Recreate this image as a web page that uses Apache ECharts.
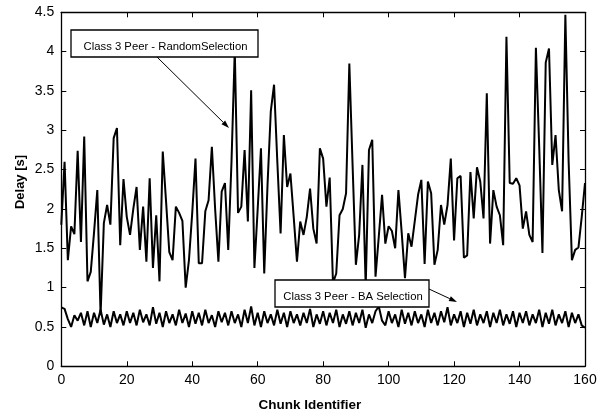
<!DOCTYPE html>
<html><head><meta charset="utf-8">
<script src="https://cdn.jsdelivr.net/npm/echarts@6/dist/echarts.min.js"></script>
<style>html,body{margin:0;padding:0;background:#fff}#c{width:615px;height:418px}</style>
</head><body><div id="c"></div>
<script>
// Class 3 Peer - RandomSelection delay [s], chunk 0..160
const randomDelay = [
1.8,2.6,1.35,1.78,1.68,2.74,1.58,2.92,1.08,1.2,
1.7,2.24,0.65,1.82,2.05,1.8,2.9,3.03,1.54,2.38,
1.9,1.67,2.0,2.28,1.48,2.03,1.33,2.39,1.25,1.92,
1.08,2.73,2.1,1.45,1.35,2.03,1.95,1.85,1.0,1.35,
1.95,2.64,1.31,1.31,1.97,2.11,2.79,2.0,1.33,2.22,
2.33,1.48,2.6,4.02,1.95,2.03,2.75,1.84,3.51,1.25,
2.0,2.77,1.18,2.3,3.24,3.58,2.6,1.69,2.94,2.28,
2.45,1.9,1.33,1.84,1.67,1.9,2.26,1.75,1.56,2.77,
2.64,2.03,2.4,1.06,1.18,1.92,2.0,2.2,3.85,2.55,
1.29,1.67,2.56,1.01,2.75,2.88,1.14,1.65,2.18,1.56,
1.78,1.72,1.5,2.24,1.7,1.12,1.69,1.52,1.85,2.18,
2.37,1.3,2.35,2.2,1.29,1.48,2.05,1.8,2.05,2.64,
1.6,2.39,2.42,1.38,1.41,2.47,1.88,2.53,2.35,1.88,
3.47,1.56,2.24,2.03,1.92,1.54,4.19,2.33,2.32,2.39,
2.3,1.75,1.97,1.67,1.58,4.05,2.8,1.44,3.86,4.04,
2.56,2.94,2.24,1.97,4.47,2.6,1.35,1.48,1.51,1.9,
2.33];
// Class 3 Peer - BA Selection delay [s]
const baDelay = [
0.75,0.73,0.6,0.5,0.65,0.58,0.68,0.52,0.7,0.5,
0.68,0.55,0.72,0.53,0.66,0.5,0.7,0.55,0.66,0.52,
0.7,0.55,0.68,0.52,0.72,0.56,0.66,0.52,0.75,0.54,
0.68,0.5,0.7,0.55,0.66,0.52,0.72,0.55,0.67,0.5,
0.7,0.54,0.68,0.52,0.72,0.55,0.65,0.5,0.7,0.56,
0.68,0.52,0.7,0.55,0.66,0.5,0.72,0.55,0.76,0.52,
0.68,0.5,0.7,0.55,0.66,0.52,0.72,0.54,0.68,0.5,
0.7,0.55,0.66,0.52,0.68,0.55,0.73,0.5,0.66,0.54,
0.7,0.52,0.68,0.55,0.72,0.5,0.66,0.54,0.7,0.52,
0.68,0.55,0.72,0.49,0.66,0.55,0.7,0.76,0.58,0.52,
0.7,0.55,0.66,0.5,0.72,0.54,0.68,0.52,0.7,0.55,
0.66,0.5,0.72,0.55,0.68,0.52,0.7,0.56,0.75,0.52,
0.66,0.55,0.7,0.5,0.68,0.54,0.72,0.52,0.66,0.55,
0.7,0.5,0.68,0.55,0.72,0.52,0.66,0.54,0.7,0.5,
0.68,0.55,0.7,0.52,0.66,0.55,0.72,0.5,0.68,0.54,
0.72,0.52,0.66,0.55,0.7,0.5,0.68,0.55,0.66,0.52,
0.49];
const xRange = [0, 160], xStep = 20;
const yRange = [0, 4.5], yStep = 0.5;
const seriesNames = ['Class 3 Peer - RandomSelection', 'Class 3 Peer - BA Selection'];
const xTitle = 'Chunk Identifier', yTitle = 'Delay [s]';

const FONT = 'Arial, "Liberation Sans", Helvetica, sans-serif';
const toPairs = arr => arr.map((v, i) => [i, v]);
const chart = echarts.init(document.getElementById('c'), null, {renderer: 'canvas'});

const lineAx = {onZero: false, lineStyle: {color: '#000', width: 1.3}};
const tickAx = {inside: true, length: 5, lineStyle: {color: '#000', width: 1}};
function xAx(pos, labels) {
  return {type: 'value', position: pos, min: xRange[0], max: xRange[1], interval: xStep,
    axisLine: lineAx, axisTick: tickAx, splitLine: {show: false},
    axisLabel: {show: labels, color: '#000', fontSize: 14, fontFamily: FONT, margin: 7}};
}
function yAx(pos, labels) {
  return {type: 'value', position: pos, min: yRange[0], max: yRange[1], interval: yStep,
    axisLine: lineAx, axisTick: tickAx, splitLine: {show: false},
    axisLabel: {show: labels, color: '#000', fontSize: 14, fontFamily: FONT, margin: 7,
      formatter: v => String(v)}};
}
function arrow(x1, y1, x2, y2) {
  const a = Math.atan2(y2 - y1, x2 - x1), L = 8, W = 2.6;
  const bx = x2 - L * Math.cos(a), by = y2 - L * Math.sin(a);
  const px = -Math.sin(a) * W, py = Math.cos(a) * W;
  return [
    {type: 'line', shape: {x1, y1, x2: bx, y2: by}, style: {stroke: '#000', lineWidth: 1}, z: 10},
    {type: 'polygon', shape: {points: [[x2, y2], [bx + px, by + py], [bx - px, by - py]]},
     style: {fill: '#000'}, z: 10}
  ];
}
function box(x, y, w, h, text) {
  return [
    {type: 'rect', shape: {x, y, width: w, height: h}, style: {fill: '#fff', stroke: '#000', lineWidth: 1.3}, z: 10},
    {type: 'text', x: x + w / 2 + 1, y: y + h / 2 + 3,
     style: {text, fill: '#000', font: '11.3px ' + FONT, align: 'center', verticalAlign: 'middle'}, z: 11}
  ];
}

chart.setOption({
  animation: false,
  backgroundColor: '#fff',
  grid: {left: 61.3, right: 30, top: 12.3, bottom: 51.7},
  xAxis: [xAx('bottom', true), xAx('top', false)],
  yAxis: [yAx('left', true), yAx('right', false)],
  series: [
    {name: seriesNames[0], type: 'line', data: toPairs(randomDelay), showSymbol: false,
     lineStyle: {color: '#000', width: 2}, z: 3},
    {name: seriesNames[1], type: 'line', data: toPairs(baDelay), showSymbol: false,
     lineStyle: {color: '#000', width: 2}, z: 3}
  ],
  graphic: [
    ...box(71, 30, 187, 27, seriesNames[0]),
    ...arrow(157, 57, 229, 128),
    ...box(275, 280, 154, 27, seriesNames[1]),
    ...arrow(429, 289, 457, 302),
    {type: 'text', x: 310, y: 405, style: {text: xTitle, fill: '#000', font: 'bold 13.5px ' + FONT, align: 'center', verticalAlign: 'middle'}},
    {type: 'text', x: 20.5, y: 182, rotation: Math.PI / 2,
     style: {text: yTitle, fill: '#000', font: 'bold 13px ' + FONT, align: 'center', verticalAlign: 'middle'}}
  ]
});
</script></body></html>
